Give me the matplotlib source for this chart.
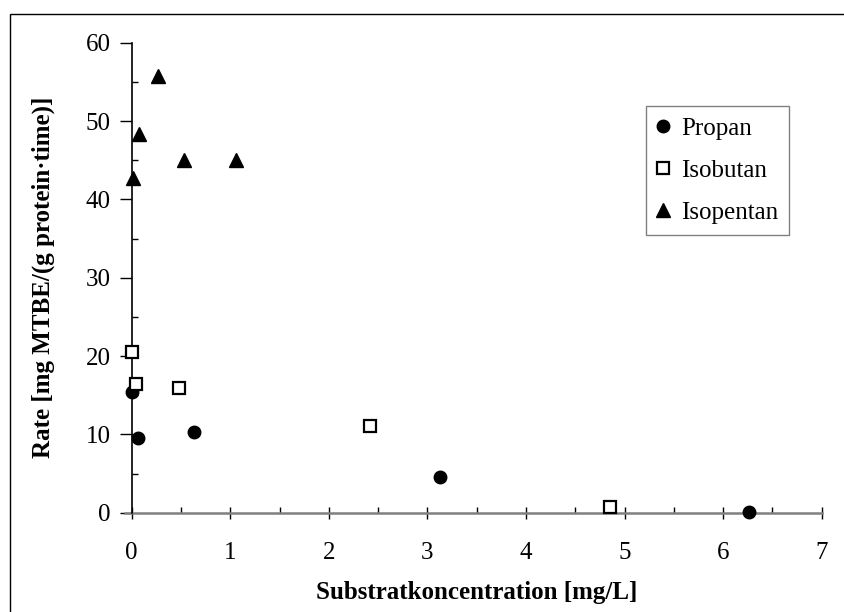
import matplotlib.pyplot as plt
from matplotlib.patches import Rectangle
from matplotlib.ticker import MultipleLocator

plt.rcParams["font.family"] = ["Liberation Serif", "DejaVu Serif"]

# data
propan_x = [0.0, 0.06, 0.63, 3.13, 6.26]
propan_y = [15.4, 9.6, 10.3, 4.5, 0.1]
isobutan_x = [0.0, 0.04, 0.48, 2.42, 4.85]
isobutan_y = [20.5, 16.4, 15.9, 11.1, 0.7]
isopentan_x = [0.01, 0.07, 0.27, 0.53, 1.06]
isopentan_y = [42.7, 48.3, 55.7, 45.0, 45.0]

fig = plt.figure(figsize=(8.45, 6.12), dpi=100)
ax = fig.add_axes([131.7 / 845, 99.3 / 612, 690 / 845, 470 / 612])

ax.plot(propan_x, propan_y, "o", color="black", ms=9, label="Propan", clip_on=False, zorder=4)
ax.plot(isobutan_x, isobutan_y, "s", mfc="white", mec="black", mew=1.6, ms=8,
        label="Isobutan", clip_on=False, zorder=4)
ax.plot(isopentan_x, isopentan_y, "^", color="black", ms=10, label="Isopentan", clip_on=False, zorder=4)

ax.set_xlim(0, 7)
ax.set_ylim(0, 60)
ax.xaxis.set_major_locator(MultipleLocator(1))
ax.xaxis.set_minor_locator(MultipleLocator(0.5))
ax.yaxis.set_major_locator(MultipleLocator(10))
ax.yaxis.set_minor_locator(MultipleLocator(5))

for s in ["top", "right", "bottom"]:
    ax.spines[s].set_visible(False)
ax.spines["left"].set_linewidth(1.2)
# gray x axis line, running a bit left of zero
ax.plot([-0.07, 7], [0, 0], color="#808080", lw=1.8, clip_on=False, zorder=2)

ax.tick_params(axis="x", which="major", direction="inout", length=8, width=1, pad=17, labelsize=18)
ax.tick_params(axis="x", which="minor", direction="in", length=4, width=1)
ax.tick_params(axis="y", which="major", direction="out", length=9, width=1, pad=6, labelsize=18)
ax.tick_params(axis="y", which="minor", direction="in", length=4, width=1)

ax.set_xlabel("Substratkoncentration [mg/L]", fontsize=18, fontweight="bold", labelpad=12)
ax.set_ylabel("Rate [mg MTBE/(g protein\u00b7time)]", fontsize=18, fontweight="bold", labelpad=22)

leg = ax.legend(loc="upper left", bbox_to_anchor=(0.745, 0.865), fontsize=18, frameon=True,
                fancybox=False, edgecolor="#606060", handlelength=0.5, handletextpad=0.45,
                labelspacing=0.78, borderpad=0.45, borderaxespad=0)
leg.get_frame().set_linewidth(1.0)

# outer frame round the chart
fig.patches.append(Rectangle((10 / 845, -0.1), 1.2, 1 - 14 / 612 + 0.1, transform=fig.transFigure,
                             fill=False, edgecolor="black", lw=1.0))

fig.savefig("out.png", dpi=100)
